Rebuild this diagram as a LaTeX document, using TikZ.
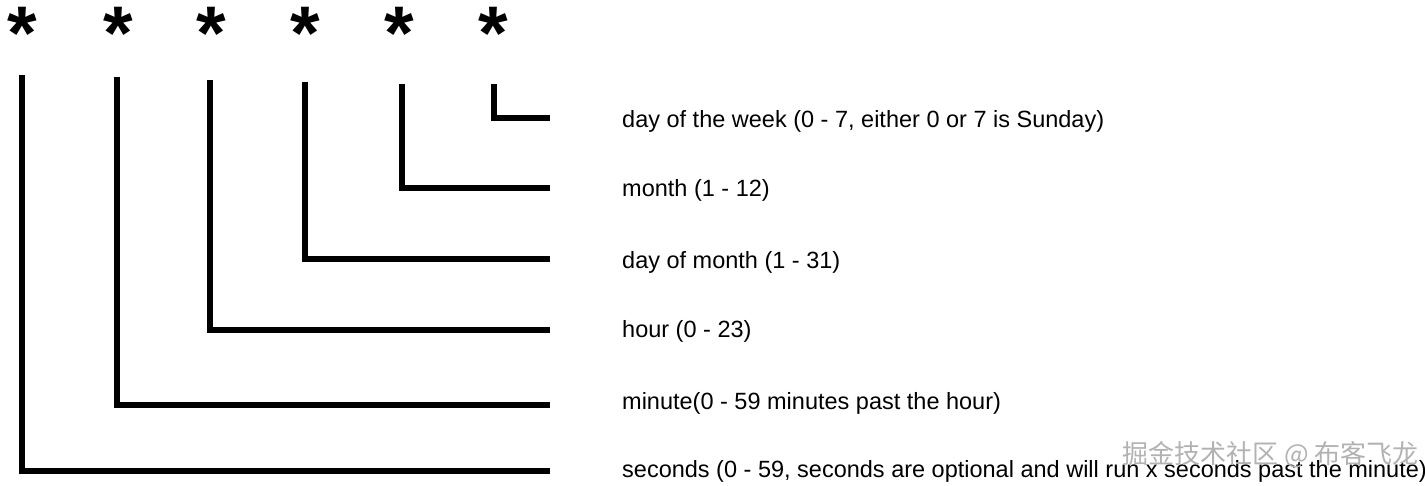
\documentclass[tikz,border=0pt]{standalone}
\usepackage{fontspec}
\setmainfont{Liberation Sans}
\newfontfamily\cjkwm{Noto Sans CJK SC}
\begin{document}
\begin{tikzpicture}[x=1pt,y=-1pt,
  star/.style={inner sep=0pt,anchor=base,text height=0.72em,text depth=0pt,font=\fontsize{76}{76}\selectfont\bfseries},
  lbl/.style={anchor=west,inner sep=0pt,font=\fontsize{23.5}{23.5}\selectfont},
  bar/.style={line width=5.5pt,line join=miter,line cap=butt}]
\useasboundingbox[fill=white] (0,0) rectangle (1425,486);
% stars
\foreach \i/\x in {1/22,2/118,3/211,4/305,5/399,6/493}{
  \node[star] (s\i) at (\x,60) {*};
}
% line tops and ends
\coordinate (t1) at (22,75);
\coordinate (t2) at (117,77);
\coordinate (t3) at (210,80);
\coordinate (t4) at (305,82);
\coordinate (t5) at (402,84);
\coordinate (t6) at (494,84);
\coordinate (e1) at (550,471);
\coordinate (e2) at (550,405);
\coordinate (e3) at (550,330);
\coordinate (e4) at (550,259);
\coordinate (e5) at (550,188);
\coordinate (e6) at (550,118);
\foreach \i in {1,...,6}{\draw[bar] (t\i) |- (e\i);}
% labels
\node[lbl] (l6) at (622,121) {day of the week (0 - 7, either 0 or 7 is Sunday)};
\node[lbl] (l5) at (622,190) {month (1 - 12)};
\node[lbl] (l4) at (622,262) {day of month (1 - 31)};
\node[lbl] (l3) at (622,331) {hour (0 - 23)};
\node[lbl] (l2) at (622,403) {minute(0 - 59 minutes past the hour)};
\node[lbl] (l1) at (622,471) {seconds (0 - 59, seconds are optional and will run x seconds past the minute)};
% watermark
\node[anchor=west,inner sep=0pt,text=black!30,font=\cjkwm\fontsize{26}{26}\selectfont] (wm) at (1122,455) {掘金技术社区 @ 布客飞龙};
\end{tikzpicture}
\end{document}
